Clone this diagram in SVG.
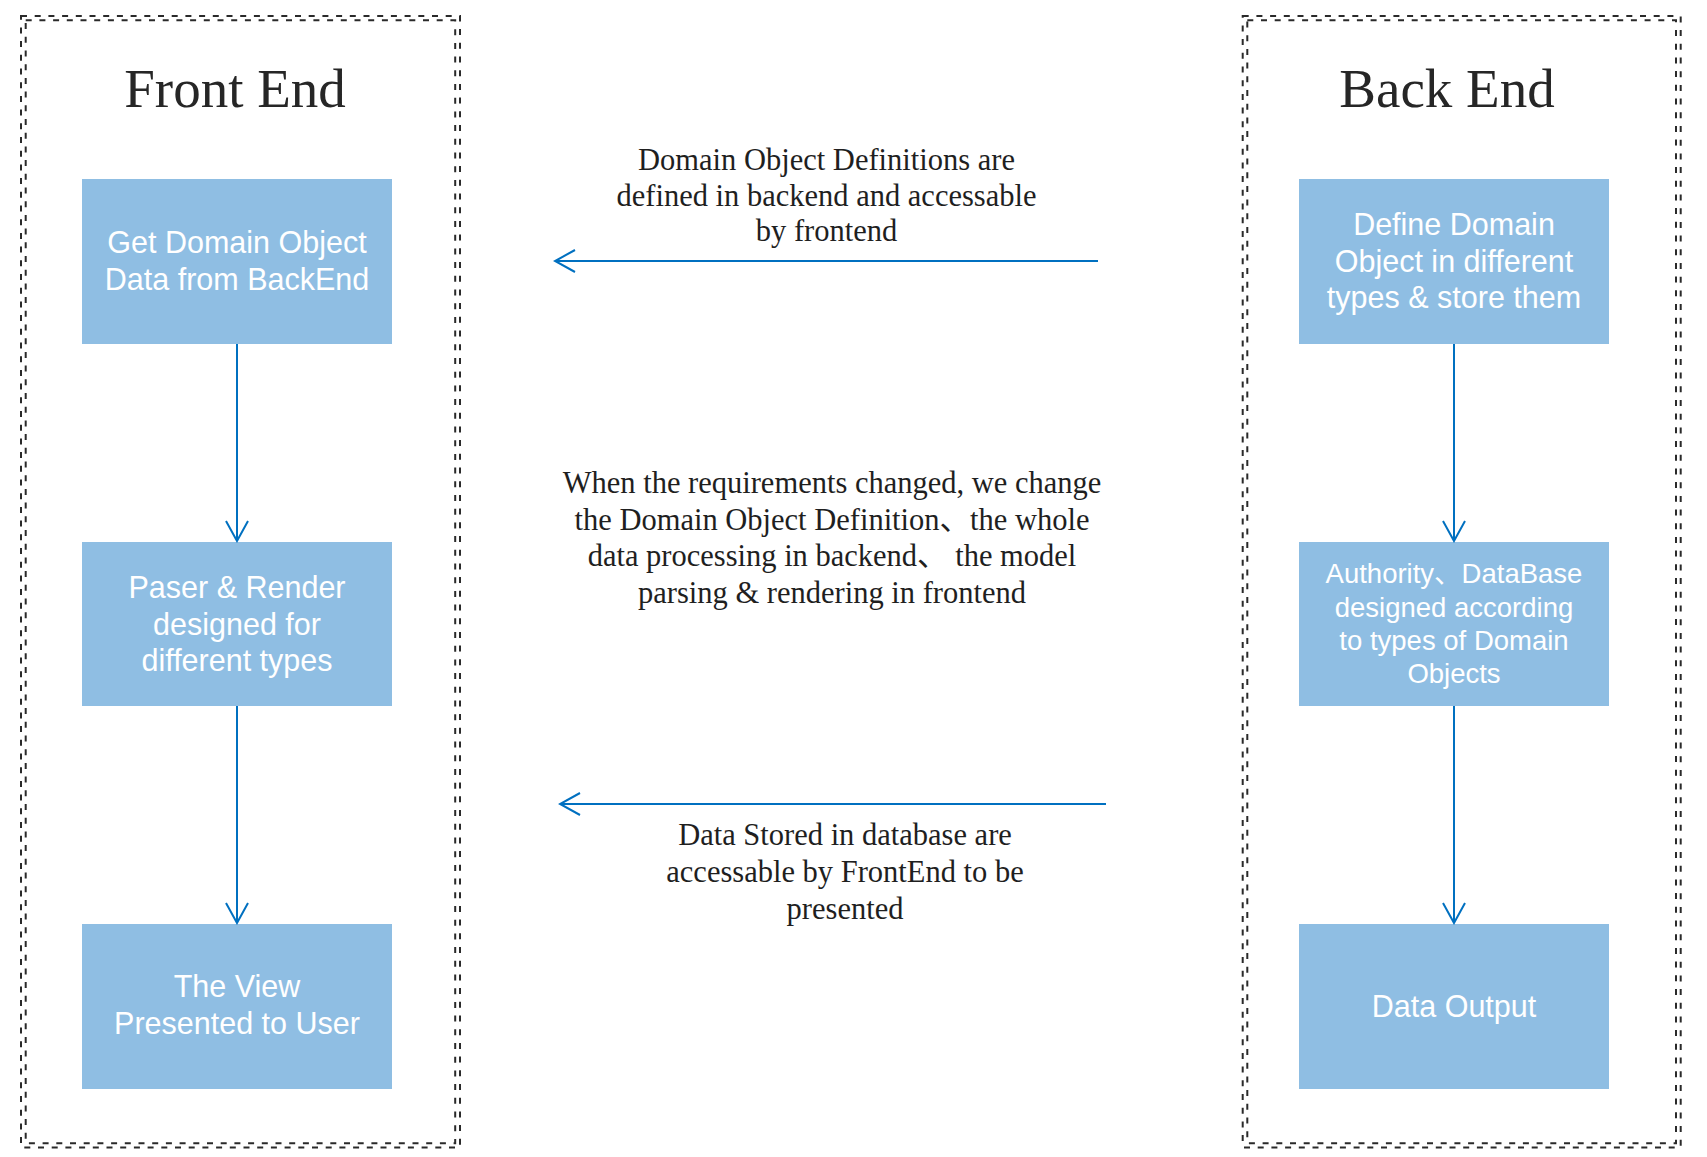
<svg xmlns="http://www.w3.org/2000/svg" width="1707" height="1157" viewBox="0 0 1707 1157">
<style>
.frame{fill:none;stroke:#2a2a2a;stroke-width:2;stroke-dasharray:6 7.7}
.box{fill:#8FBEE3}
.bt{font-family:"Liberation Sans",Arial,"Noto Sans CJK SC",sans-serif;font-size:30.5px;fill:#ffffff;text-anchor:middle}
.bt2{font-size:27.5px}
.title{font-family:"Liberation Serif","Times New Roman",serif;font-size:55px;fill:#262626;text-anchor:middle}
.note{font-family:"Liberation Serif","Times New Roman","Noto Sans CJK SC",serif;font-size:30.5px;fill:#1f1f1f;text-anchor:middle}
.conn{fill:none;stroke:#0070C0;stroke-width:2}
</style>
<defs>
<marker id="arr" markerUnits="userSpaceOnUse" viewBox="-23 -13 25 26" refX="0" refY="0" markerWidth="25" markerHeight="26" orient="auto">
<path d="M -20 -11 L 0 0 L -20 11" fill="none" stroke="#0070C0" stroke-width="2"/>
</marker>
</defs>
<rect width="1707" height="1157" fill="#ffffff"/>
<g id="frontend-frame">
<rect class="frame" x="21" y="16" width="439" height="1131.5"/>
<rect class="frame" x="25.7" y="20.3" width="429.5" height="1123"/>
<text class="title" x="235" y="107">Front End</text>
</g>
<g id="backend-frame">
<rect class="frame" x="1242.7" y="16" width="438" height="1131.5"/>
<rect class="frame" x="1247.3" y="20.3" width="428.7" height="1123"/>
<text class="title" x="1447" y="107">Back End</text>
</g>
<g id="fe1">
<rect class="box" x="82" y="179" width="310" height="165"/>
<text class="bt" x="237" y="253">Get Domain Object</text>
<text class="bt" x="237" y="290">Data from BackEnd</text>
</g>
<g id="fe2">
<rect class="box" x="82" y="542" width="310" height="164"/>
<text class="bt" x="237" y="598">Paser &amp; Render</text>
<text class="bt" x="237" y="634.5">designed for</text>
<text class="bt" x="237" y="671">different types</text>
</g>
<g id="fe3">
<rect class="box" x="82" y="924" width="310" height="165"/>
<text class="bt" x="237" y="997">The View</text>
<text class="bt" x="237" y="1034">Presented to User</text>
</g>
<g id="be1">
<rect class="box" x="1299" y="179" width="310" height="165"/>
<text class="bt" x="1454" y="235">Define Domain</text>
<text class="bt" x="1454" y="272">Object in different</text>
<text class="bt" x="1454" y="308">types &amp; store them</text>
</g>
<g id="be2">
<rect class="box" x="1299" y="542" width="310" height="164"/>
<text class="bt bt2" x="1454" y="583">Authority、DataBase</text>
<text class="bt bt2" x="1454" y="617">designed according</text>
<text class="bt bt2" x="1454" y="650">to types of Domain</text>
<text class="bt bt2" x="1454" y="683">Objects</text>
</g>
<g id="be3">
<rect class="box" x="1299" y="924" width="310" height="165"/>
<text class="bt" x="1454" y="1017">Data Output</text>
</g>
<g id="note-top">
<text class="note" x="826.5" y="170">Domain Object Definitions are</text>
<text class="note" x="826.5" y="205.5">defined in backend and accessable</text>
<text class="note" x="826.5" y="241">by frontend</text>
</g>
<g id="note-mid">
<text class="note" x="832" y="493">When the requirements changed, we change</text>
<text class="note" x="832" y="529.5">the Domain Object Definition、the whole</text>
<text class="note" x="832" y="566">data processing in backend、 the model</text>
<text class="note" x="832" y="602.5">parsing &amp; rendering in frontend</text>
</g>
<g id="note-bottom">
<text class="note" x="845" y="845">Data Stored in database are</text>
<text class="note" x="845" y="882">accessable by FrontEnd to be</text>
<text class="note" x="845" y="919">presented</text>
</g>
<g id="connectors">
<line class="conn" x1="237" y1="344" x2="237" y2="541" marker-end="url(#arr)"/>
<line class="conn" x1="237" y1="706" x2="237" y2="923" marker-end="url(#arr)"/>
<line class="conn" x1="1454" y1="344" x2="1454" y2="541" marker-end="url(#arr)"/>
<line class="conn" x1="1454" y1="706" x2="1454" y2="923" marker-end="url(#arr)"/>
<line class="conn" x1="1098" y1="261" x2="555" y2="261" marker-end="url(#arr)"/>
<line class="conn" x1="1106" y1="804" x2="560" y2="804" marker-end="url(#arr)"/>
</g>
</svg>
